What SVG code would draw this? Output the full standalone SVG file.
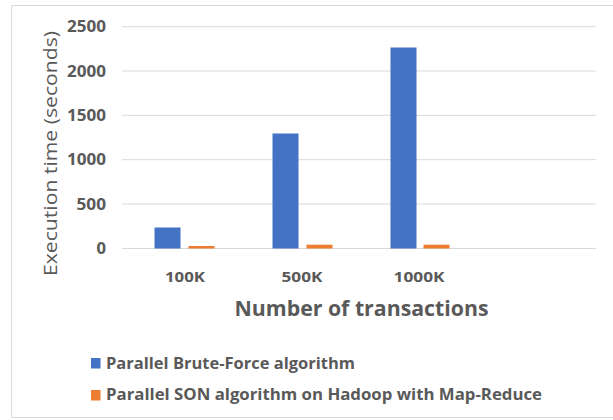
<svg xmlns="http://www.w3.org/2000/svg" width="613" height="420" viewBox="0 0 613 420">
  <style>
    .grid { stroke: #d9d9d9; stroke-width: 1; fill: none; }
    .frame { stroke: #d9d9d9; stroke-width: 1; fill: none; }
    .tick { font-family: "Open Sans", "DejaVu Sans", sans-serif; font-weight: 700; font-size: 16px; fill: #595959; }
    .cat { font-family: "Open Sans", "DejaVu Sans", sans-serif; font-weight: 700; font-size: 15px; fill: #595959; text-anchor: middle; }
    .title { font-family: "Open Sans", "DejaVu Sans", sans-serif; fill: #595959; text-anchor: middle; }
    .legend { font-family: "Open Sans", "DejaVu Sans", sans-serif; font-weight: 700; font-size: 16px; fill: #595959; }
    .blue { fill: #4472c4; }
    .orange { fill: #ed7d31; }
  </style>
  <rect x="0" y="0" width="613" height="420" fill="#ffffff"/>
  <path class="frame" d="M614,5.5 H11.5 V417.5 H614"/>

  <g id="gridlines">
    <line class="grid" x1="122" y1="26.7" x2="596" y2="26.7"/>
    <line class="grid" x1="122" y1="71" x2="596" y2="71"/>
    <line class="grid" x1="122" y1="115.3" x2="596" y2="115.3"/>
    <line class="grid" x1="122" y1="159.7" x2="596" y2="159.7"/>
    <line class="grid" x1="122" y1="204" x2="596" y2="204"/>
    <line class="grid" x1="122" y1="248.5" x2="596" y2="248.5"/>
  </g>

  <g id="y-ticks" text-anchor="end">
    <text class="tick" x="106" y="32.2" textLength="39" lengthAdjust="spacingAndGlyphs">2500</text>
    <text class="tick" x="106" y="76.5" textLength="39" lengthAdjust="spacingAndGlyphs">2000</text>
    <text class="tick" x="106" y="120.8" textLength="39" lengthAdjust="spacingAndGlyphs">1500</text>
    <text class="tick" x="106" y="165.2" textLength="39" lengthAdjust="spacingAndGlyphs">1000</text>
    <text class="tick" x="106" y="209.5" textLength="29.5" lengthAdjust="spacingAndGlyphs">500</text>
    <text class="tick" x="106" y="254" textLength="9.5" lengthAdjust="spacingAndGlyphs">0</text>
  </g>

  <g id="bars">
    <rect class="blue" x="154.5" y="227.5" width="26" height="21"/>
    <rect class="orange" x="188.5" y="246" width="26" height="2.5"/>
    <rect class="blue" x="272.5" y="133.5" width="26" height="115"/>
    <rect class="orange" x="306.5" y="244.7" width="26" height="3.8"/>
    <rect class="blue" x="390.5" y="47.5" width="26" height="201"/>
    <rect class="orange" x="423.5" y="244.7" width="26" height="3.8"/>
  </g>

  <g id="x-categories">
    <text class="cat" x="185" y="282" textLength="40" lengthAdjust="spacingAndGlyphs">100K</text>
    <text class="cat" x="302" y="282" textLength="41" lengthAdjust="spacingAndGlyphs">500K</text>
    <text class="cat" x="419" y="282" textLength="51" lengthAdjust="spacingAndGlyphs">1000K</text>
  </g>

  <g id="axis-titles">
    <text class="title" x="361.5" y="315.5" font-size="21" font-weight="700" textLength="254" lengthAdjust="spacingAndGlyphs">Number of transactions</text>
    <text class="title" transform="translate(56.5,153.5) rotate(-90)" x="0" y="0" font-size="19" font-weight="400" textLength="245" lengthAdjust="spacingAndGlyphs">Execution time (seconds)</text>
  </g>

  <g id="legend">
    <rect class="blue" x="91" y="358" width="9.5" height="10.5"/>
    <text class="legend" x="106" y="368.5" textLength="249" lengthAdjust="spacingAndGlyphs">Parallel Brute-Force algorithm</text>
    <rect class="orange" x="91" y="390" width="9.5" height="10.5"/>
    <text class="legend" x="106" y="400.2" textLength="436" lengthAdjust="spacingAndGlyphs">Parallel SON algorithm on Hadoop with Map-Reduce</text>
  </g>
</svg>
